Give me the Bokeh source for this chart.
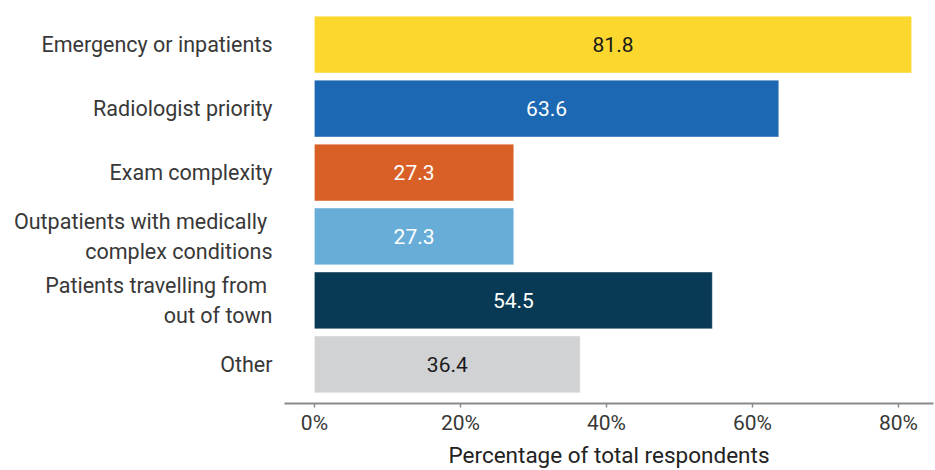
from bokeh.plotting import figure
from bokeh.models import ColumnDataSource, FactorRange, Range1d, FixedTicker
from bokeh.core.properties import value
from bokeh.embed import file_html
from bokeh.resources import INLINE

# Reasons for prioritising a scan, top to bottom
categories = [
    "Emergency or inpatients",
    "Radiologist priority",
    "Exam complexity",
    "Outpatients with medically \ncomplex conditions",
    "Patients travelling from \nout of town",
    "Other",
]
percentages = [81.8, 63.6, 27.3, 27.3, 54.5, 36.4]
bar_colors = ["#FCD82E", "#1C68B3", "#D86027", "#68ADD8", "#083A55", "#D1D2D4"]
label_colors = ["#1a1a1a", "#ffffff", "#ffffff", "#ffffff", "#ffffff", "#1a1a1a"]
x_ticks = [0, 20, 40, 60, 80]

FONT = "Roboto"
TEXT = "#383838"

src = ColumnDataSource(dict(
    cat=categories,
    pct=percentages,
    mid=[v / 2 for v in percentages],
    color=bar_colors,
    lab=[f"{v:.1f}" for v in percentages],
    lab_color=label_colors,
))

p = figure(
    width=935, height=470,
    y_range=FactorRange(factors=categories[::-1], range_padding=0.11,
                        range_padding_units="absolute"),
    x_range=Range1d(-4.1, 84.8),
    output_backend="svg", toolbar_location=None,
    min_border_left=284, min_border_right=2, min_border_top=5, min_border_bottom=66,
)

p.hbar(y="cat", left=0, right="pct", height=0.887, color="color",
       line_color="white", line_width=0.6, line_alpha=0.6, source=src)
p.text(x="mid", y="cat", text="lab", text_color="lab_color",
       text_font=value(FONT), text_font_size="21px",
       text_align="center", text_baseline="middle", source=src)

p.xgrid.visible = False
p.ygrid.visible = False
p.outline_line_color = None

xa = p.xaxis[0]
xa.ticker = FixedTicker(ticks=x_ticks)
xa.major_label_overrides = {t: f"{t}%" for t in x_ticks}
xa.axis_line_color = "#8a8a8a"
xa.axis_line_width = 2
xa.major_tick_line_color = "#8a8a8a"
xa.major_tick_line_width = 1.5
xa.major_tick_in = 0
xa.major_tick_out = 4
xa.minor_tick_line_color = None
xa.major_label_text_font = FONT
xa.major_label_text_font_size = "21px"
xa.major_label_text_color = TEXT
xa.major_label_standoff = 3
xa.axis_label = "Percentage of total respondents"
xa.axis_label_text_font = FONT
xa.axis_label_text_font_size = "22.5px"
xa.axis_label_text_font_style = "normal"
xa.axis_label_text_color = "#222222"
xa.axis_label_standoff = 4

ya = p.yaxis[0]
ya.axis_line_color = None
ya.major_tick_line_color = None
ya.minor_tick_line_color = None
ya.major_label_text_font = FONT
ya.major_label_text_font_size = "21.5px"
ya.major_label_text_color = TEXT
ya.major_label_standoff = 6

open("out.html", "w").write(file_html(p, INLINE))
